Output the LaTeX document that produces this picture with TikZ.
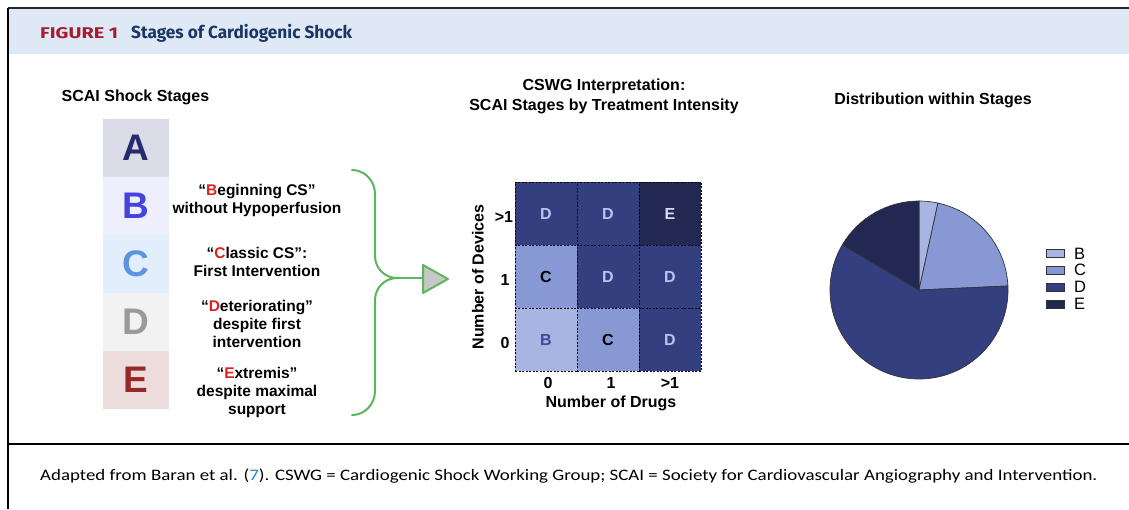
\documentclass[tikz,border=0pt]{standalone}
\usepackage{fontspec}
\usepackage{graphicx}
\setmainfont{Liberation Sans}
\newfontfamily\headfont{Fira Sans}
\newfontfamily\capfont{Carlito}
\definecolor{headbg}{HTML}{DEE9F5}
\definecolor{figred}{HTML}{A51C30}
\definecolor{headblue}{HTML}{1B3564}
\definecolor{Abg}{HTML}{DCDCE8}\definecolor{Afg}{HTML}{262A6E}
\definecolor{Bbg}{HTML}{EEEEFC}\definecolor{Bfg}{HTML}{4444DD}
\definecolor{Cbg}{HTML}{E2EEFC}\definecolor{Cfg}{HTML}{5B95E2}
\definecolor{Dbg}{HTML}{F2F2F2}\definecolor{Dfg}{HTML}{9A9A9A}
\definecolor{Ebg}{HTML}{EDDCDC}\definecolor{Efg}{HTML}{982828}
\definecolor{qred}{HTML}{E02020}
\definecolor{brgreen}{HTML}{5DB55D}
\definecolor{cellD}{HTML}{343F80}
\definecolor{cellE}{HTML}{222851}
\definecolor{cellC}{HTML}{8898D5}
\definecolor{cellB}{HTML}{A8B5E2}
\definecolor{txtD}{HTML}{B8C4EE}
\definecolor{txtE}{HTML}{D5DCF2}
\definecolor{txtB}{HTML}{3B4A9A}
\definecolor{linkblue}{HTML}{1E88C8}
\newcommand{\fitw}[2]{\resizebox{#1}{\height}{#2}}
\tikzset{
  letterbox/.style={minimum width=66pt, minimum height=58pt, inner sep=0pt, font=\fontsize{37}{38}\selectfont\bfseries},
  desc/.style={align=center, inner sep=0pt, font=\fontsize{15.5}{18}\selectfont\bfseries},
  ttl/.style={align=center, inner sep=0pt, font=\fontsize{16}{20}\selectfont\bfseries},
  cell/.style={minimum width=62pt, minimum height=63pt, inner sep=0pt, draw=black, dashed, line width=0.8pt, dash pattern=on 2pt off 1.5pt, font=\fontsize{16}{18}\selectfont\bfseries},
  tick/.style={inner sep=0pt, font=\fontsize{16}{18}\selectfont\bfseries},
  brace/.style={draw=brgreen, line width=2pt},
  slice/.style={draw=black!80, line width=0.7pt},
  legbox/.style={draw=black!80, line width=0.8pt, minimum width=18pt, minimum height=8pt, inner sep=0pt},
  legtxt/.style={anchor=west, inner sep=0pt, font=\fontsize{16.5}{18}\selectfont},
}
\begin{document}
\begin{tikzpicture}[x=1pt, y=-1pt]
\useasboundingbox (0,0) rectangle (1129,509);
% frame
\fill[headbg] (9,9) rectangle (1129,54);
\draw[line width=2pt, black!85] (8,8) -- (1129,8);
\draw[line width=1.5pt] (8,8) -- (8,509);
\draw[line width=1.5pt] (8,444) -- (1129,444);
\node[anchor=base west, inner sep=0pt, text=figred, font=\headfont\fontsize{15.5}{16}\selectfont\bfseries] (fig) at (40,38.5) {\fitw{78pt}{FIGURE 1}};
\node[anchor=base west, inner sep=0pt, text=headblue, font=\headfont\fontsize{17.5}{18}\selectfont\bfseries] (head) at (131,38.5) {\fitw{221pt}{Stages of Cardiogenic Shock}};
\node[anchor=base west, inner sep=0pt, font=\capfont\fontsize{16}{18}\selectfont] (cap) at (40,480) {\fitw{1057pt}{Adapted from Baran et al. ({\color{linkblue}7}). CSWG = Cardiogenic Shock Working Group; SCAI = Society for Cardiovascular Angiography and Intervention.}};
% left panel
\node[ttl] (t1) at (135.5,97) {SCAI Shock Stages};
\node[letterbox, fill=Abg, text=Afg] (A) at (136,148) {A};
\node[letterbox, fill=Bbg, text=Bfg] (B) at (136,206) {B};
\node[letterbox, fill=Cbg, text=Cfg] (C) at (136,264) {C};
\node[letterbox, fill=Dbg, text=Dfg] (D) at (136,322) {D};
\node[letterbox, fill=Ebg, text=Efg] (E) at (136,380) {E};
\node[desc] (dB) at (257,200) {“{\color{qred}B}eginning CS”\\without Hypoperfusion};
\node[desc] (dC) at (257,262) {“{\color{qred}C}lassic CS”:\\First Intervention};
\node[desc] (dD) at (257,324) {“{\color{qred}D}eteriorating”\\despite first\\intervention};
\node[desc] (dE) at (257,392) {“{\color{qred}E}xtremis”\\despite maximal\\support};
% brace and arrow
\coordinate (bt) at (352,170);
\coordinate (bu1) at (375,194);
\coordinate (bu2) at (375,256);
\coordinate (bm) at (397,278);
\coordinate (bl1) at (375,300);
\coordinate (bl2) at (375,391);
\coordinate (bb) at (352,415);
\coordinate (ta) at (423,278);
\coordinate (t1a) at (423,265);
\coordinate (t2a) at (448,279);
\coordinate (t3a) at (423,293);
\draw[brace, line cap=round] (bt) to[out=0,in=90] (bu1) -- (bu2) to[out=-90,in=180] (bm);
\draw[brace, line cap=round] (bb) to[out=0,in=-90] (bl2) -- (bl1) to[out=90,in=180] (bm);
\draw[brace] (bm) -- (ta);
\filldraw[draw=brgreen, fill=black!22, line width=2pt, line join=round] (t1a) -- (t2a) -- (t3a) -- cycle;
% matrix
\node[ttl] (t2) at (604,96) {CSWG Interpretation:\\SCAI Stages by Treatment Intensity};
\node[cell, fill=cellD, text=txtD] (m00) at (546,213.5) {D};
\node[cell, fill=cellD, text=txtD] (m01) at (608,213.5) {D};
\node[cell, fill=cellE, text=txtE] (m02) at (670,213.5) {E};
\node[cell, fill=cellC, text=black] (m10) at (546,276.5) {C};
\node[cell, fill=cellD, text=txtD] (m11) at (608,276.5) {D};
\node[cell, fill=cellD, text=txtD] (m12) at (670,276.5) {D};
\node[cell, fill=cellB, text=txtB] (m20) at (546,339.5) {B};
\node[cell, fill=cellC, text=black] (m21) at (608,339.5) {C};
\node[cell, fill=cellD, text=txtD] (m22) at (670,339.5) {D};
\node[tick] (y2) at (504,217) {>1};
\node[tick] (y1) at (505,280) {1};
\node[tick] (y0) at (505,343) {0};
\node[tick] (x0) at (548,383) {0};
\node[tick] (x1) at (611,383) {1};
\node[tick] (x2) at (670,383) {>1};
\node[tick] (xl) at (611,403) {Number of Drugs};
\node[tick, rotate=90] (yl) at (478,277) {Number of Devices};
% pie
\node[ttl] (t3) at (933,100) {Distribution within Stages};
\coordinate (pc) at (919,290);
\begin{scope}[shift={(pc)}, yscale=-1]
\filldraw[slice, fill=cellB] (0,0) -- (90:89) arc[start angle=90, end angle=77.7, radius=89] -- cycle;
\filldraw[slice, fill=cellC] (0,0) -- (77.7:89) arc[start angle=77.7, end angle=2.6, radius=89] -- cycle;
\filldraw[slice, fill=cellD] (0,0) -- (2.6:89) arc[start angle=2.6, end angle=-210.6, radius=89] -- cycle;
\filldraw[slice, fill=cellE] (0,0) -- (149.4:89) arc[start angle=149.4, end angle=90, radius=89] -- cycle;
\end{scope}
\node[legbox, fill=cellB] (lB) at (1055,253.5) {};
\node[legbox, fill=cellC] (lC) at (1055,270.3) {};
\node[legbox, fill=cellD] (lD) at (1055,287.1) {};
\node[legbox, fill=cellE] (lE) at (1055,304) {};
\node[legtxt] (ltB) at (1074,253.5) {B};
\node[legtxt] (ltC) at (1074,270.3) {C};
\node[legtxt] (ltD) at (1074,287.1) {D};
\node[legtxt] (ltE) at (1074,304) {E};
\end{tikzpicture}
\end{document}
